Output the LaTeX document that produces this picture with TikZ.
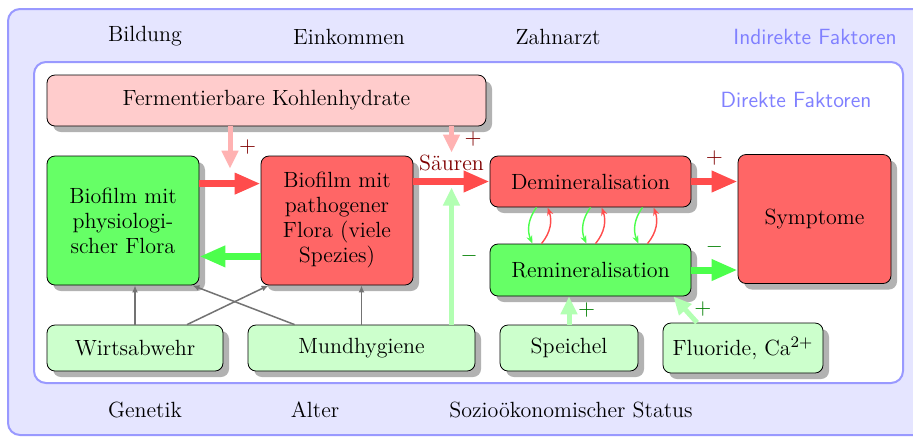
\documentclass[tikz,border=0pt]{standalone}
\usetikzlibrary{arrows.meta,shadows}

\begin{document}
\begin{tikzpicture}[x=0.5pt, y=-0.5pt,
    every node/.style={font=\fontsize{11}{12.5}\selectfont},
    box/.style={draw, rounded corners=4pt, align=center, inner sep=2pt,
      drop shadow={shadow xshift=3pt, shadow yshift=-3pt, fill=black!30, opacity=1}},
    bigarrow/.style={line width=3.5pt, -{Triangle[length=13pt, width=10pt]}},
    medarrow/.style={line width=2.5pt, -{Triangle[length=9pt, width=8pt]}},
    grayarrow/.style={draw=black!55, line width=0.75pt, -{Latex[length=3.5pt, width=3pt]}},
    cyclearrow/.style={line width=0.7pt, -{Stealth[length=4pt, width=3pt]}},
    faktor/.style={text=blue!50, font=\fontsize{11}{12.5}\sffamily}
  ]
    \useasboundingbox (0,0) rectangle (913,436);
    \begin{scope}
    \clip (0,0) rectangle (913,436);
    % Rahmen
    \draw[rounded corners=6pt, draw=blue!40, fill=blue!10, line width=1pt] (8,9) rectangle (940,435);
    \draw[rounded corners=6pt, draw=blue!40, fill=white, line width=1pt] (34,62) rectangle (903,383);
    \end{scope}

    % indirekte Faktoren
    \node (bildung) at (145,36) {Bildung};
    \node (einkommen) at (349,37) {Einkommen};
    \node (zahnarzt) at (558,37) {Zahnarzt};
    \node[faktor] (indirekt) at (815,37) {Indirekte Faktoren};
    \node (genetik) at (145,410) {Genetik};
    \node (alter) at (315,410) {Alter};
    \node (status) at (571,410) {Sozio\"okonomischer Status};
    \node[faktor] (direkt) at (796,100) {Direkte Faktoren};

    % direkte Faktoren
    \node[box, fill=red!20, minimum width=219.5pt, minimum height=25.5pt] (ferm) at (266.5,100.5) {Fermentierbare Kohlenhydrate};
    \node[box, fill=green!60, minimum width=76pt, minimum height=64.5pt] (physio) at (123,220.5) {Biofilm mit\\ physiologi-\\ scher Flora};
    \node[box, fill=red!60, minimum width=76pt, minimum height=64.5pt] (patho) at (337,220.5) {Biofilm mit\\ pathogener\\ Flora (viele\\ Spezies)};
    \node[box, fill=red!60, minimum width=100.5pt, minimum height=25.5pt] (demin) at (590.5,181.5) {Demineralisation};
    \node[box, fill=green!60, minimum width=100.5pt, minimum height=26pt] (remin) at (590.5,270) {Remineralisation};
    \node[box, fill=red!60, minimum width=76.5pt, minimum height=64.5pt] (symp) at (814.5,219) {Symptome};
    \node[box, fill=green!20, minimum width=88pt, minimum height=23pt] (wirt) at (135,348) {Wirtsabwehr};
    \node[box, fill=green!20, minimum width=113.5pt, minimum height=23pt] (mund) at (361.5,348) {Mundhygiene};
    \node[box, fill=green!20, minimum width=69pt, minimum height=23pt] (speichel) at (569,348) {Speichel};
    \node[box, fill=green!20, minimum width=80pt, minimum height=25pt] (fluor) at (743,348) {Fluoride, Ca$^{2+}$};

    % Pfeile
    \draw[bigarrow, red!70] ([yshift=-14pt]physio.north east) -- coordinate[pos=.5] (m1) ([yshift=-14pt]patho.north west);
    \draw[bigarrow, green!70] ([yshift=14.5pt]patho.south west) -- ([yshift=14.5pt]physio.south east);
    \draw[bigarrow, red!70] (patho.east |- demin.west) -- coordinate[pos=.5] (m2) (demin.west);
    \node[text=red!50!black] (saeuren) at ([yshift=9.5pt]m2) {S\"auren};
    \draw[medarrow, red!30] (ferm.south -| m1) -- node[right, text=red!50!black] {$+$} ([yshift=7.5pt]m1);
    \draw[medarrow, red!30] (ferm.south -| m2) -- node[right=2pt, text=red!50!black] {$+$} ([yshift=14.5pt]m2);
    \draw[medarrow, green!30] (mund.north -| m2) -- node[right, text=green!50!black] {$-$} ([yshift=-3pt]m2);
    \draw[bigarrow, red!70] (demin.east) -- node[above=3pt, text=red!50!black] {$+$} (demin.east -| symp.west);
    \draw[bigarrow, green!70] (remin.east) -- node[above=3pt, text=green!50!black] {$-$} (remin.east -| symp.west);
    \draw[medarrow, green!30] (speichel.north) -- node[right, text=green!50!black] {$+$} (speichel.north |- remin.south);
    \draw[medarrow, green!30] ([xshift=-23pt]fluor.north) -- node[right, text=green!50!black] {$+$} ([xshift=-9pt]remin.south east);

    \foreach \d in {-27,0,26} {
      \draw[cyclearrow, green!70] ([xshift=\d pt]demin.south) to[bend right=30] ([xshift=\d pt-2pt]remin.north);
      \draw[cyclearrow, red!70] ([xshift=\d pt+2.5pt]remin.north) to[bend right=30] ([xshift=\d pt+5.5pt]demin.south);
    }

    \draw[grayarrow] (wirt.north) -- (wirt.north |- physio.south);
    \draw[grayarrow] ([xshift=26pt]wirt.north) -- ([xshift=4pt]patho.south west);
    \draw[grayarrow] ([xshift=23.5pt]mund.north west) -- ([xshift=-3.5pt]physio.south east);
    \draw[grayarrow] (mund.north) -- (mund.north |- patho.south);
  \end{tikzpicture}
\end{document}
